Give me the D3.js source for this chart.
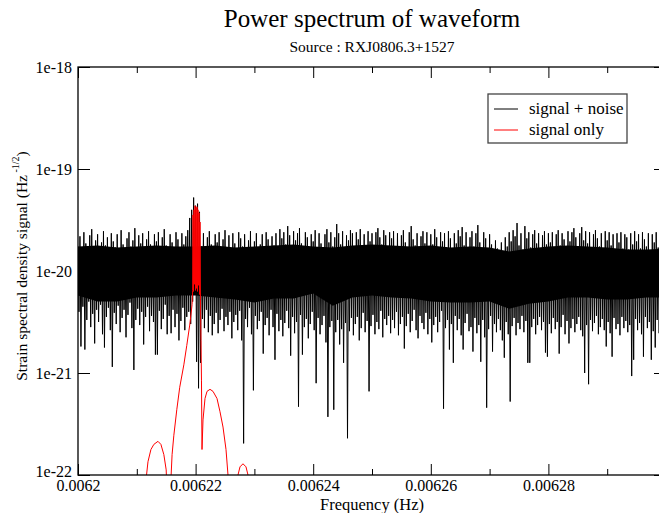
<!DOCTYPE html>
<html><head><meta charset="utf-8">
<script src="https://cdn.jsdelivr.net/npm/d3@7"></script>
<style>
body{margin:0;background:#fff}
text{font-family:"Liberation Serif","Times New Roman",serif;fill:#000}
</style>
</head><body>
<svg id="c" width="659" height="513"></svg>
<script>
// ---------- data ----------
const xMajorTicks = [0.0062, 0.00622, 0.00624, 0.00626, 0.00628, 0.0063];
const xTickLabels = ["0.0062", "0.00622", "0.00624", "0.00626", "0.00628", ""];
const xMinorTicks = [0.00621, 0.00623, 0.00625, 0.00627, 0.00629];
const yTicks = [1e-18, 1e-19, 1e-20, 1e-21, 1e-22];
const yTickLabels = ["1e-18", "1e-19", "1e-20", "1e-21", "1e-22"];
const seriesNames = ["signal + noise", "signal only"];

// signal + noise: frequency bins, upper and lower excursion in each bin
// (hundredths of a decade relative to 1e-20)
const noiseStartHz = 0.0062;
const noiseBinHz = 1e-4 / 300;
const noiseHigh = [
 24,34,19,38,27,22,35,41,21,30,36,18,28,39,25,33,20,37,29,23,
 36,21,40,26,17,32,38,24,30,42,20,35,27,37,22,31,39,26,19,36,
 29,38,20,33,41,25,18,36,28,22,38,31,21,37,26,34,40,52,60,72,
 64,66,58,24,37,21,33,39,26,19,36,28,38,20,31,40,23,35,22,37,
 27,20,38,32,24,36,18,30,39,23,29,37,19,26,36,22,38,31,21,34,
 25,37,21,41,32,38,26,44,35,22,39,30,37,42,27,20,38,33,19,36,
 29,40,22,37,27,19,36,41,28,38,24,33,46,37,26,39,21,35,30,40,
 37,23,38,31,41,25,36,20,39,29,37,22,38,42,33,26,40,35,24,38,
 32,39,24,37,21,35,40,28,23,38,44,31,25,37,19,34,39,27,38,22,
 36,26,41,33,20,38,29,37,23,39,32,21,37,27,40,34,43,25,38,22,
 33,39,24,37,45,28,21,38,32,19,36,26,17,30,22,18,28,16,33,24,
 38,29,40,34,47,25,37,21,44,32,38,23,36,40,27,37,20,35,39,26,
 37,28,38,22,36,40,25,37,31,20,39,29,38,42,33,24,37,43,30,39,
 27,38,21,36,40,32,24,37,20,39,30,38,25,36,19,37,28,38,22,36,
 33,21,37,26,39,29,36,22,38,31,24,37,20,36,28,38,23,35,26,36
];
const noiseLow = [
 -40,-74,-35,-77,-48,-30,-55,-42,-71,-38,-50,-33,-62,-75,-45,-36,-58,-94,-41,-52,
 -34,-60,-46,-38,-65,-43,-31,-56,-97,-48,-37,-53,-40,-72,-45,-35,-59,-44,-50,-82,
 -82,-39,-57,-47,-33,-62,-44,-61,-38,-55,-42,-68,-49,-36,-58,-45,-40,-52,-30,-22,
 -89,-115,-90,-47,-56,-38,-60,-44,-63,-52,-41,-61,-48,-37,-59,-45,-53,-40,-66,-50,
 -43,-58,-39,-68,-169,-47,-55,-36,-62,-117,-44,-57,-49,-40,-81,-53,-46,-63,-38,-55,
 -87,-42,-59,-48,-64,-51,-39,-56,-83,-45,-61,-50,-133,-43,-82,-55,-47,-66,-52,-40,
 -58,-110,-46,-62,-53,-44,-70,-143,-55,-49,-136,-60,-48,-72,-57,-90,-51,-164,-59,-46,
 -63,-52,-45,-68,-56,-41,-60,-49,-118,-54,-43,-62,-50,-57,-39,-65,-47,-53,-44,-61,
 -48,-56,-40,-63,-52,-45,-76,-54,-42,-60,-49,-38,-58,-66,-44,-51,-57,-41,-62,-47,
 -70,-53,-45,-60,-50,-39,-135,-56,-48,-77,-52,-90,-44,-58,-47,-63,-77,-51,-42,-59,
 -55,-79,-46,-61,-53,-89,-48,-65,-134,-57,-44,-79,-52,-60,-47,-58,-68,-85,-50,-62,
 -128,-54,-46,-63,-51,-57,-44,-60,-49,-90,-90,-55,-47,-62,-53,-45,-58,-50,-80,-84,
 -52,-61,-46,-57,-50,-81,-55,-43,-62,-49,-71,-56,-47,-60,-52,-45,-58,-64,-100,-53,
 -111,-48,-59,-51,-44,-62,-55,-47,-58,-74,-50,-61,-84,-46,-57,-52,-63,-45,-56,-49,
 -60,-53,-103,-87,-47,-58,-51,-62,-84,-45,-56,-50,-87,-59,-75,-48,-61,-53,-57,-50
];
// dense core of the noise band, read every 10 bins (same units)
const coreTop = [24,25,23,24,25,24,24,25,23,24,25,26,24,23,25,26,25,24,25,23,24,23,19,22,24,25,24,23,21,21,22];
const coreBottom = [-24,-30,-30,-26,-26,-24,-24,-26,-28,-31,-27,-27,-22,-34,-26,-24,-26,-27,-30,-31,-31,-30,-37,-32,-30,-26,-26,-28,-28,-26,-26];

// signal only: frequency (Hz) and log10 amplitude
const signalHz = [
 0.0062113,0.0062116,0.0062119,0.0062124,0.0062129,0.0062136,0.0062141,0.0062146,0.0062150,0.0062153,
 0.0062158,0.0062160,0.0062163,0.0062168,0.0062173,0.0062180,0.0062185,0.0062190,0.0062194,0.0062195,
 0.00621956,0.00621964,0.00621973,0.00621981,0.00621990,0.00621998,0.00622007,0.00622015,0.00622024,0.00622032,
 0.00622041,0.00622049,0.00622058,0.00622066,0.00622075,0.00622083,0.00622092,0.00622100,0.00622109,0.00622126,
 0.00622160,0.00622194,0.00622245,0.00622296,0.00622364,0.00622415,0.00622466,0.00622517,0.00622551,0.00622568,
 0.00622704,0.00622721,0.00622755,0.00622806,0.00622857,0.00622891,0.00622908
];
const signalLog = [
 -22.20,-22.03,-21.87,-21.75,-21.70,-21.67,-21.70,-21.80,-21.95,-22.50,
 -22.05,-21.80,-21.61,-21.36,-21.14,-20.92,-20.73,-20.53,-20.33,-20.19,
 -19.45,-20.20,-19.40,-20.13,-19.36,-20.19,-19.38,-20.17,-19.37,-20.20,
 -19.40,-20.14,-19.43,-20.23,-19.52,-20.28,-20.68,-21.07,-21.75,-21.46,
 -21.25,-21.18,-21.16,-21.18,-21.25,-21.38,-21.53,-21.75,-22.00,-22.15,
 -22.15,-22.00,-21.92,-21.89,-21.92,-22.00,-22.15
];

// ---------- chart ----------
const FONT = '"Liberation Serif", "Times New Roman", serif';
const svg = d3.select("#c");
const L = 78, R = 666, T = 67, B = 475;
const x = d3.scaleLinear().domain([0.0062, 0.0063]).range([L, R]);
const y = d3.scaleLog().domain([1e-22, 1e-18]).range([B, T]);
const lv = v => Math.pow(10, -20 + v / 100);

svg.append("defs").append("clipPath").attr("id", "plot")
  .append("rect").attr("x", L).attr("y", T).attr("width", R - L).attr("height", B - T);

const g = svg.append("g").attr("clip-path", "url(#plot)");

// core band
const coreStep = 10 * noiseBinHz;
const corePts = coreTop.map((t, i) => ({ f: noiseStartHz + i * coreStep, t: lv(t), b: lv(coreBottom[i]) }));
g.append("path").attr("d", d3.area().x(d => x(d.f)).y0(d => y(d.b)).y1(d => y(d.t))(corePts))
  .attr("fill", "#000");

// noise polyline
const n = Math.min(noiseHigh.length, noiseLow.length);
const noisePts = [];
for (let i = 0; i < n; i++) {
  noisePts.push([noiseStartHz + i * noiseBinHz, lv(noiseHigh[i])]);
  noisePts.push([noiseStartHz + (i + 0.5) * noiseBinHz, lv(noiseLow[i])]);
}
const line = d3.line().x(d => x(d[0])).y(d => y(d[1]));
g.append("path").attr("d", line(noisePts)).attr("fill", "none")
  .attr("stroke", "#000").attr("stroke-width", 1);

const sigPts = signalHz.map((f, i) => [f, Math.pow(10, signalLog[i])]);
g.append("path").attr("d", line(sigPts)).attr("fill", "none")
  .attr("stroke", "#ff0000").attr("stroke-width", 1);

// axes
function styleAxis(sel) {
  sel.attr("font-family", FONT);
  sel.select(".domain").remove();
  sel.selectAll("line").attr("stroke", "#000").attr("stroke-width", 1);
  sel.selectAll("text").attr("font-family", FONT).attr("font-size", "16px").attr("fill", "#000");
}
svg.append("g").attr("transform", `translate(0,${B})`)
  .call(d3.axisBottom(x).tickValues(xMajorTicks).tickSize(-11).tickPadding(5)
    .tickFormat((d, i) => xTickLabels[i])).call(styleAxis);
svg.append("g").attr("transform", `translate(0,${B})`)
  .call(d3.axisBottom(x).tickValues(xMinorTicks).tickSize(-6).tickFormat("")).call(styleAxis);
svg.append("g").attr("transform", `translate(0,${T})`)
  .call(d3.axisTop(x).tickValues(xMajorTicks).tickSize(-11).tickFormat("")).call(styleAxis);
svg.append("g").attr("transform", `translate(0,${T})`)
  .call(d3.axisTop(x).tickValues(xMinorTicks).tickSize(-6).tickFormat("")).call(styleAxis);
const yAx = svg.append("g").attr("transform", `translate(${L},0)`)
  .call(d3.axisLeft(y).tickValues(yTicks).tickSize(-12).tickPadding(6)
    .tickFormat((d, i) => yTickLabels[i])).call(styleAxis);
yAx.selectAll(".tick").filter(d => d === 1e-22).select("text").attr("dy", "0.1em");
svg.append("g").attr("transform", `translate(${R},0)`)
  .call(d3.axisRight(y).tickValues(yTicks).tickSize(-12).tickFormat("")).call(styleAxis);

svg.append("rect").attr("x", L).attr("y", T).attr("width", R - L).attr("height", B - T)
  .attr("fill", "none").attr("stroke", "#000").attr("stroke-width", 1.3);

// titles
svg.append("text").attr("x", 372).attr("y", 27).attr("text-anchor", "middle")
  .attr("font-family", FONT).attr("font-size", "25px").text("Power spectrum of waveform");
svg.append("text").attr("x", 372).attr("y", 52).attr("text-anchor", "middle")
  .attr("font-family", FONT).attr("font-size", "15.5px").text("Source : RXJ0806.3+1527");
svg.append("text").attr("x", 372).attr("y", 510).attr("text-anchor", "middle")
  .attr("font-family", FONT).attr("font-size", "16.5px").text("Frequency (Hz)");
const yl = svg.append("text").attr("transform", "translate(27,266) rotate(-90)")
  .attr("text-anchor", "middle").attr("font-family", FONT).attr("font-size", "15.5px");
yl.append("tspan").text("Strain spectral density signal (Hz");
yl.append("tspan").attr("dy", -8).attr("font-size", "10px").text(" -1/2");
yl.append("tspan").attr("dy", 8).text(")");

// legend
const lg = svg.append("g");
lg.append("rect").attr("x", 488).attr("y", 94).attr("width", 139).attr("height", 49)
  .attr("fill", "#fff").attr("stroke", "#444").attr("stroke-width", 1.3);
const legColors = ["#000", "#ff0000"];
seriesNames.forEach((s, i) => {
  const yy = 109 + i * 21;
  lg.append("line").attr("x1", 494).attr("x2", 518).attr("y1", yy).attr("y2", yy)
    .attr("stroke", legColors[i]).attr("stroke-width", 1);
  lg.append("text").attr("x", 529).attr("y", yy + 5).attr("font-family", FONT)
    .attr("font-size", "17px").text(s);
});
</script>
</body></html>
